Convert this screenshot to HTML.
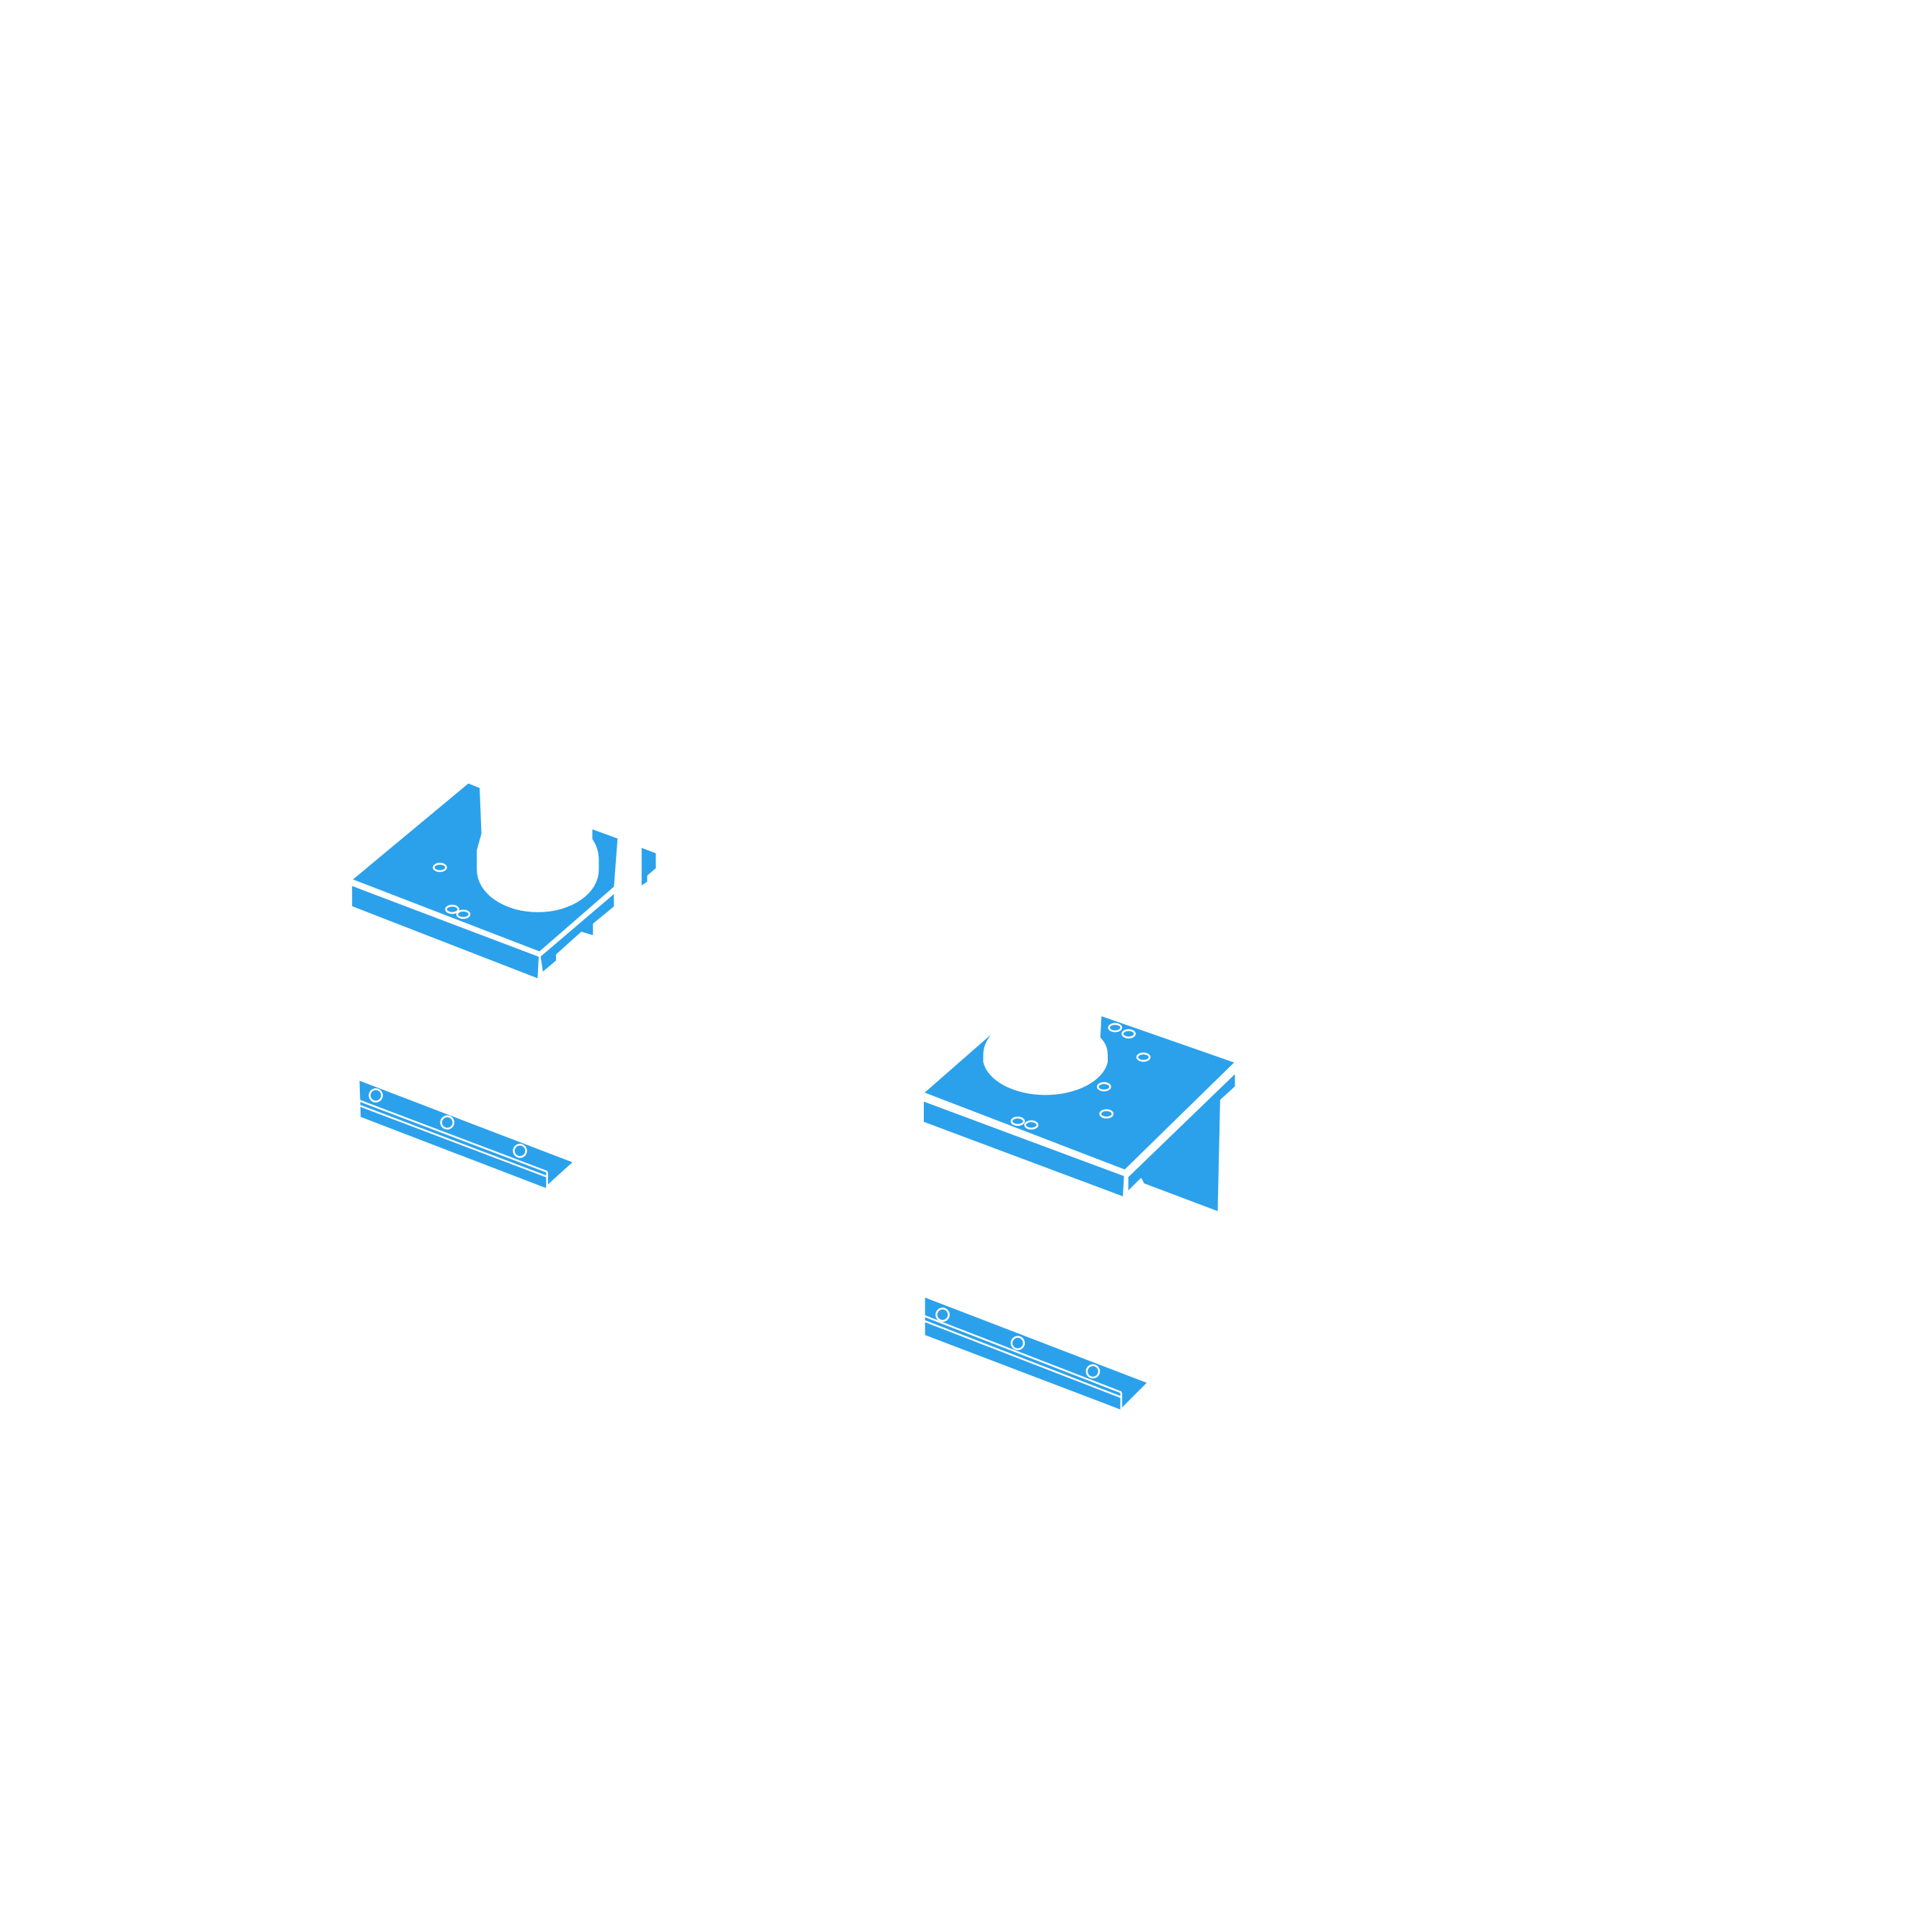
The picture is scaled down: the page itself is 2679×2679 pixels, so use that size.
<!DOCTYPE html>
<html><head><meta charset="utf-8"><style>html,body{margin:0;padding:0;background:#fff}svg{display:block}</style></head>
<body>
<svg width="2679" height="2679" viewBox="0 0 1568 1568" xmlns="http://www.w3.org/2000/svg">
<g fill="#2ba1ec" stroke="#fff" stroke-width="1.5" stroke-linejoin="round">
<!-- Part 1 -->
<polygon points="285,714 380,635 390,639 392,690 480,686 480,672 502,680 499,720 438,773"/>
<polygon points="285,718 438,776 437,795 285,736"/>
<polygon points="438,776 499,724 499,736 482,750 482,760 472,757 452,775 452,780 440,790"/>
<polygon points="520,687 533,692 533,705 526,711 526,716 520,720"/>
<!-- Part 2 -->
<polygon points="749,887 805,838 894,824 1003,862 913,950"/>
<polygon points="749,893 913,954 912,972 749,911"/>
<polygon points="915,955 1003,870 1003,882 991,893 989,984 928,961 926,957 915,968"/>
<!-- Bars -->
<polygon points="291,876 466,943 445,962 443,965 292,907"/>
<polygon points="750,1052 932,1122 912,1142 910,1145 750,1084"/>
</g>
<!-- holes -->
<g fill="#fff">
<path d="M387,690 L387,706 A49,34 0 0 0 486,706 L486,698 Q486,688 480,680 L480,672 L392,672 Z"/>
<path d="M804,840 Q798,848 798,856 L798,862 A51,31 0 0 0 899,862 L899,856 Q899,848 893,842 L894,824 L806,824 Z"/>
</g>
<g fill="none" stroke="#fff" stroke-width="1.5">
<ellipse cx="357" cy="704" rx="5" ry="3"/><ellipse cx="367" cy="738" rx="5" ry="3"/><ellipse cx="376" cy="742" rx="5" ry="3"/>
<ellipse cx="905" cy="834" rx="5" ry="3"/><ellipse cx="916" cy="839" rx="5" ry="3"/><ellipse cx="928" cy="858" rx="5" ry="3"/>
<ellipse cx="896" cy="882" rx="5" ry="3"/><ellipse cx="898" cy="904" rx="5" ry="3"/><ellipse cx="826" cy="910" rx="5" ry="3"/><ellipse cx="837" cy="913" rx="5" ry="3"/>
<line x1="291" y1="893" x2="444" y2="951"/><line x1="291" y1="897" x2="444" y2="955"/>
<line x1="750" y1="1068" x2="910" y2="1130"/><line x1="750" y1="1072" x2="910" y2="1134"/>
<line x1="444" y1="951" x2="444" y2="964"/><line x1="910" y1="1130" x2="910" y2="1144"/>
<circle cx="305" cy="889" r="5"/><circle cx="363" cy="911" r="5"/><circle cx="422" cy="934" r="5"/>
<circle cx="765" cy="1067" r="5"/><circle cx="826" cy="1090" r="5"/><circle cx="887" cy="1113" r="5"/>
</g>
</svg>
</body></html>
